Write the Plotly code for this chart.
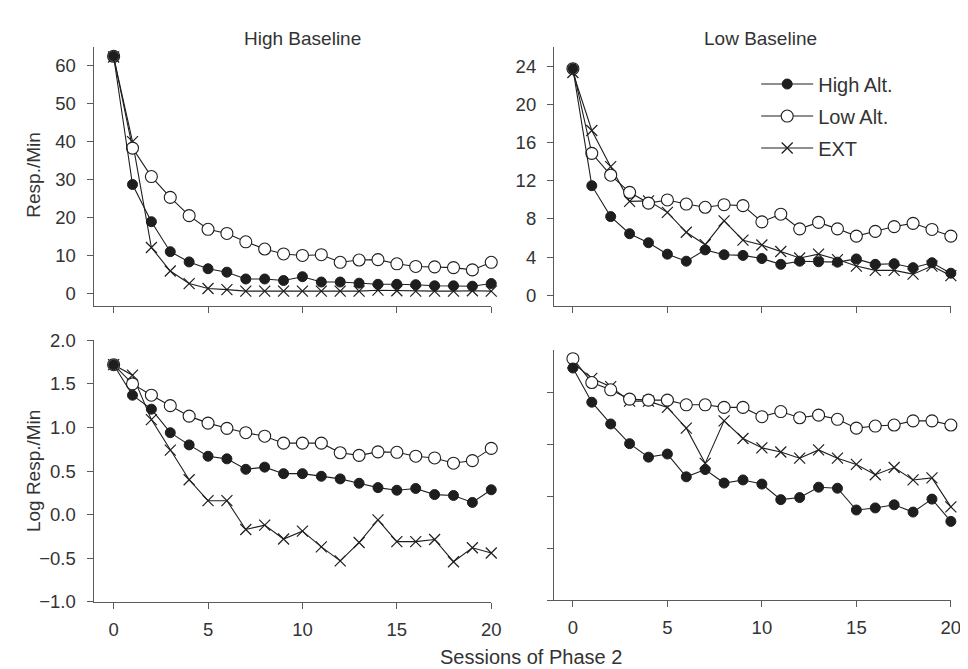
import plotly.graph_objects as go

W, H = 968, 669

sessions = list(range(21))

# Top-left: High Baseline, Resp./Min
hb_high = [62.5, 28.7, 18.9, 11.0, 8.3, 6.5, 5.6, 3.8, 3.8, 3.4, 4.4, 3.0, 3.0, 2.7, 2.4, 2.4, 2.3, 2.0, 2.0, 1.9, 2.6]
hb_low = [62.5, 38.3, 30.8, 25.3, 20.5, 16.9, 15.8, 13.6, 11.7, 10.4, 10.0, 10.2, 8.2, 8.8, 8.9, 7.8, 7.1, 7.0, 6.8, 6.2, 8.2]
hb_ext = [62.3, 40.0, 12.1, 5.9, 2.6, 1.3, 1.0, 0.6, 0.6, 0.6, 0.6, 0.6, 0.6, 0.6, 0.85, 0.7, 0.6, 0.6, 0.6, 0.7, 0.6]

# Top-right: Low Baseline, Resp./Min
lb_high = [23.8, 11.5, 8.25, 6.45, 5.5, 4.3, 3.56, 4.75, 4.24, 4.17, 3.84, 3.23, 3.56, 3.5, 3.46, 3.8, 3.23, 3.3, 2.88, 3.4, 2.3]
lb_low = [23.8, 14.9, 12.6, 10.8, 9.67, 10.0, 9.57, 9.23, 9.5, 9.4, 7.7, 8.5, 6.96, 7.64, 6.96, 6.2, 6.7, 7.2, 7.54, 6.9, 6.2]
lb_ext = [23.4, 17.3, 13.5, 9.85, 9.9, 8.7, 6.6, 5.3, 7.8, 5.77, 5.26, 4.58, 3.9, 4.3, 3.73, 3.05, 2.6, 2.6, 2.2, 3.05, 2.04]

# Bottom-left: High Baseline, Log Resp./Min
hb_log_high = [1.72, 1.37, 1.21, 0.94, 0.80, 0.67, 0.64, 0.52, 0.545, 0.47, 0.47, 0.44, 0.41, 0.36, 0.31, 0.28, 0.30, 0.23, 0.22, 0.14, 0.285]
hb_log_low = [1.72, 1.50, 1.37, 1.25, 1.13, 1.05, 0.99, 0.94, 0.90, 0.82, 0.82, 0.82, 0.71, 0.68, 0.72, 0.715, 0.67, 0.65, 0.59, 0.62, 0.76]
hb_log_ext = [1.72, 1.60, 1.09, 0.74, 0.40, 0.16, 0.16, -0.17, -0.12, -0.28, -0.19, -0.37, -0.53, -0.32, -0.06, -0.31, -0.31, -0.285, -0.54, -0.38, -0.44]

# Bottom-right: Low Baseline, Log Resp./Min
lb_log_high = [1.74, 1.41, 1.20, 1.01, 0.88, 0.91, 0.69, 0.76, 0.63, 0.66, 0.62, 0.47, 0.49, 0.59, 0.58, 0.37, 0.39, 0.42, 0.35, 0.475, 0.26]
lb_log_low = [1.83, 1.60, 1.53, 1.44, 1.43, 1.43, 1.385, 1.385, 1.36, 1.36, 1.27, 1.32, 1.26, 1.285, 1.245, 1.16, 1.18, 1.19, 1.23, 1.23, 1.19]
lb_log_ext = [1.79, 1.64, 1.56, 1.42, 1.42, 1.36, 1.16, 0.82, 1.23, 1.06, 0.97, 0.93, 0.87, 0.95, 0.87, 0.81, 0.71, 0.78, 0.66, 0.68, 0.40]

series_names = ["High Alt.", "Low Alt.", "EXT"]
x_ticks = [0, 5, 10, 15, 20]
top_left_ticks = [0, 10, 20, 30, 40, 50, 60]
top_right_ticks = [0, 4, 8, 12, 16, 20, 24]
bottom_left_ticks = [-1.0, -0.5, 0.0, 0.5, 1.0, 1.5, 2.0]
bottom_right_ticks = [-0.5, 0.0, 0.5, 1.0, 1.5]

LINE = "#1e1e1e"
AX = "#5a5a5a"
TXT = "#333333"
FONT = "Liberation Sans, Arial, sans-serif"

styles = {
    "High Alt.": dict(symbol="circle", size=10, color=LINE, line=dict(color=LINE, width=1)),
    "Low Alt.": dict(symbol="circle", size=12, color="white", line=dict(color=LINE, width=1.1)),
    "EXT": dict(symbol="x-thin-open", size=11, color=LINE, line=dict(color=LINE, width=1.2)),
}

fig = go.Figure()

panels = [
    ("x", "y", [hb_high, hb_low, hb_ext], True),
    ("x2", "y2", [lb_high, lb_low, lb_ext], False),
    ("x3", "y3", [hb_log_high, hb_log_low, hb_log_ext], False),
    ("x4", "y4", [lb_log_high, lb_log_low, lb_log_ext], False),
]

# draw order: EXT, Low, High so filled dots on top
for xa, ya, data, show in panels:
    for idx in [2, 1, 0]:
        name = series_names[idx]
        fig.add_trace(go.Scatter(
            x=sessions, y=data[idx], xaxis=xa, yaxis=ya,
            mode="lines+markers", name=name,
            line=dict(color=LINE, width=1.1),
            marker=styles[name],
            showlegend=show, legendrank=idx + 1, legendgroup=name,
            cliponaxis=False,
        ))

def px_x(a, b):
    return [a / W, b / W]

def px_y(top, bottom):
    return [(H - bottom) / H, (H - top) / H]

axis_common = dict(
    showline=True, linecolor=AX, linewidth=1.2, mirror=False,
    ticks="outside", ticklen=6, tickwidth=1.2, tickcolor=AX,
    showgrid=False, zeroline=False,
    tickfont=dict(family=FONT, size=18.5, color=TXT),
)

L_DOM = px_x(86.5, 488.3)
R_DOM = px_x(551.7, 952.7)
TOP_DOM = px_y(29, 296.7)

fig.update_layout(
    width=W, height=H,
    margin=dict(l=0, r=0, t=0, b=0),
    paper_bgcolor="white", plot_bgcolor="white",
    font=dict(family=FONT, color=TXT),
    showlegend=True,
    legend=dict(
        x=756 / W, y=(H - 47) / H, xanchor="left", yanchor="top",
        bgcolor="rgba(0,0,0,0)", borderwidth=0,
        font=dict(family=FONT, size=20, color=TXT),
        itemwidth=52, traceorder="grouped", tracegroupgap=3,
    ),
    xaxis=dict(domain=L_DOM, range=[-1.06, 20], anchor="y", tickvals=x_ticks, showticklabels=False, **axis_common),
    yaxis=dict(domain=TOP_DOM, range=[-3.42, 64.92], anchor="x", tickvals=top_left_ticks, ticklabelstandoff=7, **axis_common),
    xaxis2=dict(domain=R_DOM, range=[-1.0, 20], anchor="y2", tickvals=x_ticks, showticklabels=False, **axis_common),
    yaxis2=dict(domain=TOP_DOM, range=[-1.19, 26.07], anchor="x2", tickvals=top_right_ticks, ticklabelstandoff=7, **axis_common),
    xaxis3=dict(domain=L_DOM, range=[-1.06, 20], anchor="y3", tickvals=x_ticks, ticklabelstandoff=5, **axis_common),
    yaxis3=dict(domain=px_y(331.7, 601.7), range=[-1.0, 2.0], anchor="x3", tickvals=bottom_left_ticks, tickformat=".1f", ticklabelstandoff=7, **axis_common),
    xaxis4=dict(domain=R_DOM, range=[-1.0, 20], anchor="y4", tickvals=x_ticks, ticklabelstandoff=5, **axis_common),
    yaxis4=dict(domain=px_y(341.7, 600), range=[-0.5, 1.914], anchor="x4", tickvals=bottom_right_ticks, showticklabels=False, **axis_common),
)

def ann(text, x, y, angle=0, size=19):
    fig.add_annotation(text=text, x=x / W, y=(H - y) / H, xref="paper", yref="paper",
                       showarrow=False, textangle=angle, xanchor="center", yanchor="middle",
                       font=dict(family=FONT, size=size, color=TXT))

ann("High Baseline", 298, 20)
ann("Low Baseline", 760, 20)
ann("Resp./Min", 26, 161, angle=-90)
ann("Log Resp./Min", 26, 466, angle=-90)
ann("Sessions of Phase 2", 528, 659, size=20)

fig.write_html("out.html")
